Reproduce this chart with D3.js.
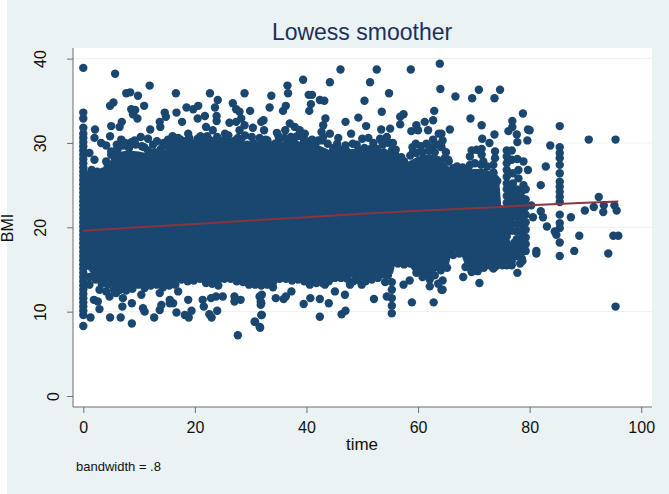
<!DOCTYPE html>
<html><head><meta charset="utf-8">
<script src="https://cdn.jsdelivr.net/npm/d3@7"></script>
<style>html,body{margin:0;padding:0;background:#fff}svg{display:block}text{font-family:"Liberation Sans",Arial,sans-serif}</style>
</head><body><svg id="c" width="669" height="494"></svg>
<script>
const xTicks=[0,20,40,60,80,100];
const yTicks=[0,10,20,30,40];
const columnZero=[[0,8.3],[0,9.6],[0,10.1],[0,10.6],[0,11.1],[0,11.6],[0,12.1],[0,12.6],[0,13.1],[0,13.6],[0,14.1],[0,14.6],[0,15.1],[0,15.6],[0,16.1],[0,16.6],[0,17.1],[0,17.6],[0,18.1],[0,18.6],[0,19.1],[0,19.6],[0,20.1],[0,20.6],[0,21.1],[0,21.6],[0,22.1],[0,22.6],[0,23.1],[0,23.6],[0,24.1],[0,24.6],[0,25.1],[0,25.6],[0,26.1],[0,26.6],[0,27.1],[0,27.6],[0,28.1],[0,28.6],[0,29.1],[0,29.6],[0,30.1],[0,30.6],[0,31.1],[0,31.8],[0,32.9],[0,33.6],[0,38.9]];
const upperA=[[5.7,38.2],[11.9,36.8],[7.7,35.9],[8.4,36],[9.8,35.6],[16.6,35.9],[22.7,35.9],[28.9,35.9],[24.1,35.1],[5.4,34.8],[4.8,34.4],[10.9,34.4],[8.6,34],[9.3,33.9],[9.7,32.9],[8.9,33.4],[14.6,33.6],[14.8,33.1],[16.7,33.6],[18.5,34.2],[19.7,34],[20.6,34.4],[23.6,34.2],[26.8,34.7],[27.4,34],[29.9,33.8],[28,33.7],[21.8,33.2],[20.5,32.9],[23.9,33.2],[23.9,32.6],[6.9,32.5],[6.5,31.9],[5,32],[4.8,30.8],[13.7,32.5],[13.8,31.9],[17.7,32.5],[12,31.6],[2.1,31.6],[2,30.6],[3.2,30],[4.1,29.7],[6.8,30.4],[8.6,30.1],[10.3,30.7],[11.6,30.5],[10.9,29.5],[14.4,30],[16,30.8],[18.8,31.1],[22,31.9],[23.2,31.5],[25.4,31.1],[26.2,32.4],[27.4,32.5],[28.3,32.9],[28.9,32.1],[28,31.5],[30.4,31.8],[31.9,32.5],[27.7,30.6],[22.2,30.8],[17.4,30.4],[20.5,30.5],[25,30.3],[5.9,29.1],[1.1,28.8],[2,28],[4.1,27.8]];
const upperB=[[46.1,38.7],[52.6,38.7],[58.7,38.7],[63.9,39.4],[64,36.4],[39.4,37.5],[36.6,36.8],[44.2,37.2],[51.4,37.2],[36.7,35.9],[33.7,35.6],[54.8,35.9],[40.4,35.7],[41,35.7],[42.4,35.1],[43.2,35],[50.4,35],[40.8,34.6],[33.4,34.2],[36.3,34.4],[35.8,33.8],[40.5,33.8],[53.5,33.7],[62.9,33.8],[57.4,33.4],[56.8,33.1],[56.8,32.2],[32.3,32.7],[32.4,31.5],[43.4,32.9],[47,32.5],[49.3,33],[50.7,32],[48,31.1],[34.7,31.2],[36.2,31.5],[37,32.3],[37.9,31.9],[38.8,31.5],[39.7,31.1],[43,32.1],[42.7,31.3],[44.2,31.1],[45.7,30.6],[48.3,29.9],[50,30.5],[51.1,30.6],[53.4,31.6],[55,31.7],[53.2,30.5],[54.4,30.7],[59.7,32.1],[58.8,31.4],[60,31.5],[61.2,32.5],[62.7,32.7],[61.8,31.5],[63.7,31.1],[62.7,30.4],[59.6,29.9],[61.5,29.9],[59.1,29],[64.1,29.7],[55.3,29.1],[44.8,29.3],[42.1,30.3],[33.2,29.7],[34.4,29.9],[39.4,29.9],[36.7,30.1]];
const upperC=[[66.7,35.5],[69.7,35.3],[73.7,35.3],[70.9,36.3],[74.7,36.3],[78.8,33.5],[69.4,32.9],[76.9,32.6],[71.4,32.1],[65.7,31.6],[85.4,32],[76.2,31.4],[76.9,31.9],[79.7,31.6],[80,31.5],[77.7,31],[77.8,30.1],[79.6,30.3],[73.7,31],[71.5,30.5],[72.8,30],[90.6,30.4],[95.4,30.4],[83.7,29.7],[64.2,31.1],[64.4,30.3],[64.2,29.5],[64.8,28.2],[65.4,28],[66.3,27],[66.9,26.8],[69.6,29.1],[70.5,29.2],[71.4,29.3],[69.3,28.4],[69.3,27.4],[71.4,28.6],[71.7,27.8],[73.8,29],[73.8,28.2],[73.5,27.4],[73.5,26.4],[73.8,25.8],[75.9,29.1],[75.9,28.4],[75.9,27.6],[75.9,26.8],[75.9,26],[75.9,25.2],[76.8,29.1],[76.8,28],[77.8,28.1],[78.9,27.8],[78,26.8],[79.7,26.8],[78,25.8],[78.9,25],[77,26.4],[77,25.2]];
const column85=[[85.4,29.5],[85.4,28.8],[85.4,28.2],[85.4,27.4],[85.4,26.4],[85.4,25.4],[85.4,24.8],[85.4,24.2],[85.4,23.6],[85.4,23],[85.4,21.5],[85.4,20.5],[85.4,19.9],[84.5,19.5],[85.4,18.2],[84.8,19.1],[83.1,20.1],[85.4,16.6]];
const tailPoints=[[82.9,27.2],[82,25],[80.3,22.6],[82,21.9],[82.4,21.2],[80.6,21.2],[87.4,21.2],[89.9,22],[91.5,22.4],[92.4,23.6],[93.3,22.6],[93.2,21.8],[95.2,22.6],[95.6,22],[88.9,19],[95,19],[95.9,19],[81.2,17.2],[81.2,16.9],[88,17.2],[94.1,16.9],[95.4,10.6],[78.7,16],[78.3,15.7],[77.8,14.6],[71,13.4],[68.1,14.1],[64.4,13.7],[64.4,12.6],[75.9,15.5],[76.8,15.5],[73.5,15.1],[69.6,14.7],[71.7,15.5],[72.6,15.9]];
const lowerA=[[1.3,9.3],[4.8,9.3],[6.7,9.3],[8.7,8.6],[12.7,9.3],[10.7,10.4],[11,10],[2.9,10.3],[2.6,11.2],[1.9,11.4],[7,10.6],[8.7,11],[13.7,10.2],[14,10.8],[15.5,11.4],[16.1,11],[16.7,9.9],[18.2,9.6],[18.9,9.3],[19.4,10.1],[21.6,10.6],[21.4,11.4],[22.6,9.7],[23,9.3],[24,10.1],[22.9,11.6],[23.8,11.8],[25,11.8],[27.1,11.8],[27.1,11.2],[28.2,11.4],[27.7,7.2],[30.7,8.8],[31.6,8.2],[31.9,9.6],[31.9,11],[31.6,11.8],[2.9,12.6],[4.1,12.4],[1.1,13.2],[1.1,14.1],[4.7,11.8],[5.9,12.2],[7.1,11.6],[10.4,12],[13.7,12.2],[17,12.4],[18.8,11.4],[15.5,11]];
const lowerB=[[32,12],[31.8,11.2],[31.8,10.8],[32,9.6],[31.7,8.1],[30.8,8.8],[34.5,11.6],[35.9,11.5],[36.3,11.8],[39.5,10.9],[40.7,11.6],[42.4,11.5],[42.4,9.4],[44,11],[46.3,9.7],[47,10.1],[45.1,12.4],[46.9,12],[52.1,11.5],[54.4,11.8],[55.3,13.5],[55.3,12.6],[55.3,11.6],[55.3,10.7],[55.3,9.8],[57.4,13.2],[58.5,13.7],[58.9,11.1],[62.8,11.1],[62.1,13.8],[62.1,13],[64.2,12.6],[63.6,13.3],[34,12.9],[37.3,12.4],[40.6,13.2],[43.3,13.2],[47.8,13.2],[49.9,13.2],[54.1,13.5]];
const edgeTop=[[1.5,26.8],[2.5,26.6],[3.5,26.6],[4.3,27],[5,28.6],[6.2,29.3],[7.2,29.7],[8.2,29.4],[9.4,29.8],[10.5,29.6],[11.6,29.1],[12.8,28.9],[13.9,29.3],[15,29.7],[16.1,30],[17.2,29.9],[18.3,30.2],[19.4,30],[20.6,29.9],[21.7,30.1],[22.8,30.3],[23.9,29.9],[25,29.9],[26.1,30.2],[27.2,30.3],[28.3,30.4],[29.4,29.8],[30.5,30],[31.6,30.6],[32.7,30.4],[33.8,29.7],[35,30.2],[36.1,30.6],[37.2,30.7],[38.3,30.8],[39.4,30.6],[40.5,29.6],[41.6,29.9],[42.7,30.3],[43.8,29.9],[44.9,29.4],[46,29.2],[47.1,29.1],[48.2,28.8],[49.3,29.2],[50.4,29.4],[51.5,29.3],[52.6,29.3],[53.7,29.8],[54.8,30],[55.9,28.6],[57.5,27.8],[58.6,28.5],[59.7,28.8],[60.8,28.9],[61.9,29.1],[63,28.9],[65.5,27.8],[67,27.2],[68,27.1],[69,26.9],[70.2,27.6],[71.3,27.4],[72.4,27.2],[73.5,26.5],[74.2,25.5]];
const shoulderTop=[[5,29],[6,29.8],[7.5,30],[9.2,30.3],[12.5,29.8],[13.2,30.2],[15.2,30.4],[17,30.6],[19,30.6],[21,30.8],[24,30.7],[26,30.9],[29,30.9],[30.2,30.7],[33,30.3],[35,30.8],[40,30.2],[41,30.4],[43,30.7],[45.5,29.9],[47,29.7],[49,29.8],[52,30],[53.5,30.2],[55.5,30],[56,29.2],[57,28.3],[59,29.5],[60.5,29.6],[62.5,29.5],[63.5,29.8],[65,28.9]];
const edgeBottom=[[2.2,13.8],[3.3,13.3],[4.4,13.2],[5.5,12.6],[6.6,12.6],[7.7,12.5],[8.8,12.7],[9.9,13.2],[11,12.8],[12.1,13.1],[13.2,13.2],[14.3,12.9],[15.4,13.1],[16.5,13.2],[17.6,13.8],[18.7,13.6],[19.8,13.7],[20.9,13.9],[22,13.4],[23.1,13.3],[24.2,13.1],[25.3,13.9],[26.4,13.9],[27.5,13.6],[28.6,13.5],[29.7,13.2],[30.8,13.2],[31.9,13.1],[33,13.2],[34.1,13.6],[35.2,13.9],[36.3,13.9],[37.4,13.7],[38.5,13.8],[39.6,13.6],[40.7,13.4],[41.8,13.4],[42.9,13.4],[44,13.6],[45.1,14],[46.2,14],[47.3,13.9],[48.4,13.6],[49.5,13.7],[50.6,13.6],[51.7,13.8],[52.8,14],[53.9,14.4],[54.6,14.3],[56.4,15.7],[57.5,15.6],[58.6,15.7],[59.7,14.6],[60.8,14.1],[61.9,14.2],[63,14.3],[64.1,14.9],[65.2,15.2],[66.3,16.7],[67.4,16.9],[68.5,15.3],[69.6,14.9],[70.7,14.8],[71.8,15.2],[72.9,15.5],[74,15.4],[75.1,15.5]];
const blockPoints=[[75.9,24.5],[75.9,23.7],[75.9,22.9],[75.9,22.1],[75.9,21.3],[75.9,20.5],[75.9,19.7],[75.9,18.9],[75.9,18.1],[75.9,17.3],[75.9,16.5],[75.9,15.7],[76.8,24.4],[76.8,23.6],[76.8,22.8],[76.8,22],[76.8,21.2],[76.8,20.4],[76.8,19.6],[76.8,17.6],[76.8,16.8],[76.8,16],[77.7,24.5],[77.7,23.7],[77.7,22.9],[77.7,22.1],[77.7,21.3],[77.7,20.4],[77.7,19.5],[77.7,18.6],[77.3,18.2],[77.7,17.4],[77.7,16.6],[78.6,24.3],[78.6,23.5],[78.6,22.7],[78.6,21.9],[78.6,21.1],[78.6,20.3],[78.6,19.5],[78.6,18.7],[78.6,17.9],[78.6,17.1],[78.6,16.3],[79.3,24.5],[79.3,23.3],[79.3,22.4],[79.3,21.5],[79.3,20.6],[79.3,19.7],[79.3,18.8],[79.3,18],[79.3,17.2]];
// Outline of the solid overplotted mass: [time, BMI] read along its top and bottom edges
const massTop=[[0,29.6],[0.8,26.6],[2,26.3],[3,26.6],[4,26.4],[5,28.2],[6,28.9],[8,29.1],[10,29],[12,28.7],[14,29],[16,29.7],[18,30],[20,29.9],[24,29.9],[28,30.2],[30,30],[32,30.3],[34,29.5],[36,30.2],[38,30.5],[40,29.5],[42,29.8],[44,29.2],[46,29],[48,28.6],[50,29],[52,29.1],[54,29.4],[56,28.5],[57,27.6],[58,27.7],[60,28.4],[62,28.7],[64,28.4],[65,27.5],[66,26.9],[68,26.7],[70,26.9],[72,26.9],[74,26.2],[74.6,25.2],[74.9,22.6],[75.7,22.6]];
const massBottom=[[75.7,15.8],[74,15.4],[72,15.4],[71,14.9],[70,14.7],[68.5,15.4],[67.5,17.2],[66,17],[65.5,15.4],[64,15.1],[62,14.3],[60,14.2],[59,14.9],[58,15.9],[56,15.9],[55.5,14.5],[54,14.5],[52,13.8],[50,13.7],[48,14.1],[46,14.1],[44,13.6],[42,13.4],[40,13.6],[38,13.9],[36,13.9],[34,13.7],[32,13.2],[30,13.4],[28,13.7],[26,13.9],[24,13.2],[22,13.4],[20,14],[18,13.9],[16,13.4],[14,13],[12,13],[10,12.9],[8,12.7],[6,12.7],[4,13.4],[3,13.4],[2,13.9],[1,14.9],[0,15.2]];
const lowessTime=[0,10,20,30,40,50,60,70,80,90,95.9];
const lowessBmi=[19.6,20,20.4,20.8,21.2,21.6,21.95,22.25,22.6,22.9,23.05];

const NAVY="#1a476f",BG="#eaf2f3",AX="#6e6e6e";
const svg=d3.select("#c");
const x=d3.scaleLinear().domain([0,100]).range([83.3,641.2]);
const y=d3.scaleLinear().domain([0,40]).range([396,58.6]);
const L=73,R=652,T=48,B=407;
svg.append("rect").attr("x",7).attr("y",0).attr("width",662).attr("height",494).attr("fill",BG);
svg.append("rect").attr("x",L).attr("y",T).attr("width",R-L).attr("height",B-T).attr("fill","#fff");
svg.append("g").selectAll("line").data(yTicks.slice(1)).join("line")
 .attr("x1",L).attr("x2",R).attr("y1",d=>y(d)).attr("y2",d=>y(d)).attr("stroke",BG).attr("stroke-width",1);
const line=d3.line().x(d=>x(d[0])).y(d=>y(d[1]));
svg.append("path").attr("d",line(massTop.concat(massBottom))+"Z").attr("fill",NAVY);
const pts=[].concat(columnZero,upperA,upperB,upperC,column85,tailPoints,lowerA,lowerB,edgeTop,shoulderTop,edgeBottom,blockPoints);
svg.append("g").selectAll("circle").data(pts).join("circle")
 .attr("cx",d=>x(d[0])).attr("cy",d=>y(d[1])).attr("r",4.2).attr("fill",NAVY);
svg.append("path").attr("d",d3.line().x((d,i)=>x(lowessTime[i])).y(d=>y(d))(lowessBmi))
 .attr("fill","none").attr("stroke","#8a3540").attr("stroke-width",2);
const ax=d3.axisBottom(x).tickValues(xTicks).tickSize(6).tickPadding(9).tickFormat(d3.format("d"));
const gx=svg.append("g").attr("transform",`translate(0,${B})`).call(ax);
gx.select(".domain").attr("d",`M${L},0H${R}`).attr("stroke",AX);
gx.selectAll(".tick line").attr("stroke",AX);
gx.selectAll("text").attr("font-size",16).attr("font-family","Liberation Sans").attr("fill","#111");
const ay=d3.axisLeft(y).tickValues(yTicks).tickSize(6).tickPadding(7).tickFormat(d3.format("d"));
const gy=svg.append("g").attr("transform",`translate(${L},0)`).call(ay);
gy.select(".domain").attr("d",`M0,${T}V${B}`).attr("stroke",AX);
gy.selectAll(".tick line").attr("stroke",AX);
gy.selectAll("text").attr("font-size",16).attr("font-family","Liberation Sans").attr("fill","#111")
 .attr("text-anchor","middle").attr("dy",0).attr("x",0)
 .attr("transform",d=>`translate(${d===0?-14:-27},0) rotate(-90)`);
svg.append("text").attr("x",362).attr("y",40).attr("text-anchor","middle").attr("font-size",23).attr("fill","#1e2f5c").text("Lowess smoother");
svg.append("text").attr("x",362).attr("y",450).attr("text-anchor","middle").attr("font-size",17).attr("fill","#111").text("time");
svg.append("text").attr("transform","translate(13,228) rotate(-90)").attr("text-anchor","middle").attr("font-size",16).attr("fill","#111").text("BMI");
svg.append("text").attr("x",76).attr("y",471).attr("font-size",13).attr("fill","#111").text("bandwidth = .8");
</script></body></html>
